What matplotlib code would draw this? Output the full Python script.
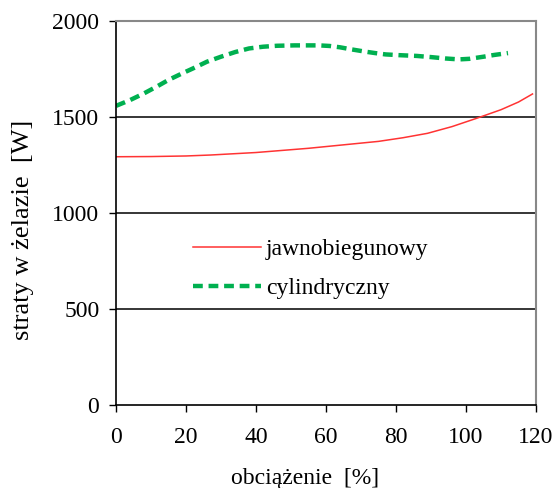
import matplotlib.pyplot as plt
import numpy as np

x_jawno = [0, 10, 20, 27, 40, 55, 65, 75, 82, 89, 96, 103, 110, 115, 119]
y_jawno = [1293, 1294, 1297, 1302, 1315, 1337, 1355, 1373, 1392, 1415, 1450, 1493, 1538, 1578, 1620]

x_cyl = [0, 4, 8, 12, 15, 19, 22, 26, 30, 34, 38, 42, 46, 51, 55, 58, 61, 64, 67, 71, 74, 77, 81, 86, 90, 94, 98, 101, 105, 108, 112]
y_cyl = [1558, 1588, 1623, 1662, 1693, 1728, 1753, 1788, 1814, 1838, 1857, 1866, 1871, 1873, 1873, 1873, 1870, 1863, 1853, 1841, 1833, 1826, 1822, 1818, 1812, 1805, 1800, 1803, 1814, 1823, 1833]

x_ticks = [0, 20, 40, 60, 80, 100, 120]
y_ticks = [0, 500, 1000, 1500, 2000]

plt.rcParams["font.family"] = ["Liberation Serif", "DejaVu Serif"]
plt.rcParams["font.size"] = 17

fig = plt.figure(figsize=(5.56, 4.88), dpi=100)
ax = fig.add_axes([116 / 556, 1 - 405 / 488, 420 / 556, 384 / 488])

ax.plot(x_jawno, y_jawno, color="#ff3333", lw=1.1, label="jawnobiegunowy")
ax.plot(x_cyl, y_cyl, color="#00b050", lw=3.2, ls=(0, (2.2, 1.3)),
        label="cylindryczny", solid_joinstyle="round")

for yv in [500, 1000, 1500]:
    ax.axhline(yv, color="black", lw=1.1, zorder=0)

ax.set_xlim(0, 120)
ax.set_ylim(0, 2000)
ax.set_xticks(x_ticks)
ax.set_yticks(y_ticks)
ax.tick_params(direction="out", length=5, width=1)
ax.tick_params(axis="x", pad=11)
ax.tick_params(axis="y", pad=7)

for s in ["top", "right"]:
    ax.spines[s].set_color("#888888")
    ax.spines[s].set_linewidth(1.5)
for s in ["left", "bottom"]:
    ax.spines[s].set_color("black")
    ax.spines[s].set_linewidth(1.2)

ax.set_xlabel("obciążenie  [%]")
ax.set_ylabel("straty w żelazie  [W]", fontsize=19)
ax.xaxis.set_label_coords(0.45, -0.163)
ax.yaxis.set_label_coords(-0.195, 0.456)

ax.legend(loc="center left", bbox_to_anchor=(0.183, 0.355), frameon=False,
          borderpad=0, borderaxespad=0,
          handlelength=2.9, handletextpad=0.2, labelspacing=0.75)

fig.savefig("out.png", dpi=100)
